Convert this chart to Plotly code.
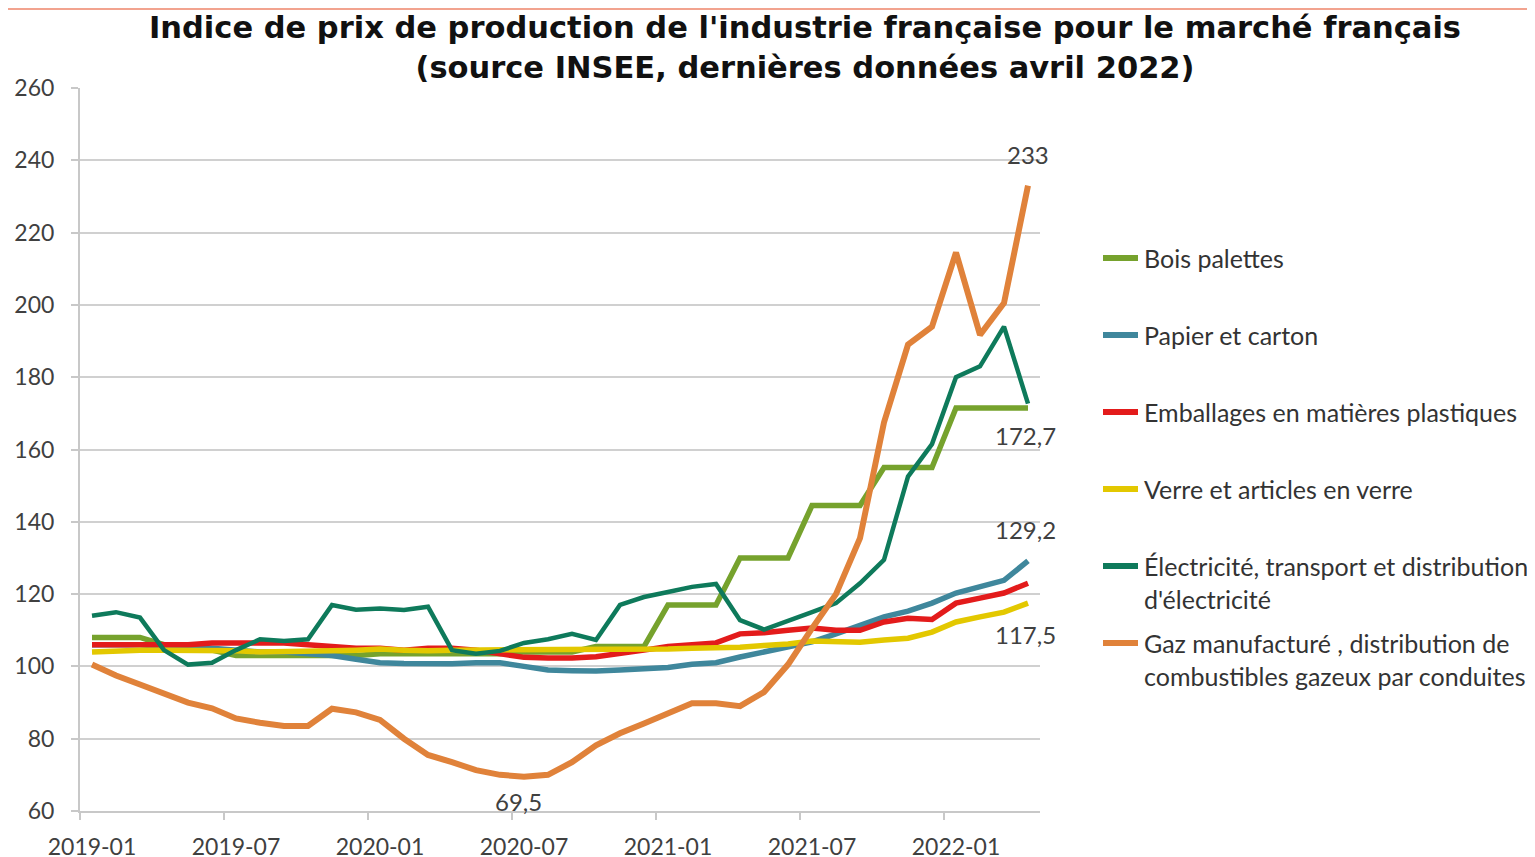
import plotly.graph_objects as go

months = [f"{y}-{m:02d}" for y in (2019, 2020, 2021, 2022) for m in range(1, 13)][:40]

bois_palettes = [108, 108, 108, 106, 105, 104.5, 103, 103, 103, 103, 103, 103,
                 103.5, 103.5, 103.5, 103.5, 103.5, 103.5, 104, 104, 104, 105.5, 105.5, 105.5,
                 117, 117, 117, 130, 130, 130, 144.5, 144.5, 144.5, 155, 155, 155,
                 171.5, 171.5, 171.5, 171.5]
papier_carton = [106, 106, 106, 105.5, 105, 105, 104.5, 104, 104, 103.5, 103, 102,
                 101, 100.8, 100.7, 100.7, 101, 101, 100, 99, 98.8, 98.7, 99, 99.5,
                 99.7, 100.6, 101, 102.6, 104, 105.3, 106.8, 109, 111.4, 113.7, 115.3, 117.5,
                 120.3, 122, 123.8, 129.2]
emballages_plastiques = [106, 106, 106, 106, 106, 106.5, 106.5, 106.5, 106.5, 106, 105.5, 105,
                         105, 104.5, 105, 105, 104.5, 103.5, 102.5, 102.3, 102.3, 102.7, 103.5, 104.5,
                         105.5, 106, 106.5, 109, 109.3, 110, 110.6, 110, 110, 112.3, 113.3, 113,
                         117.5, 118.9, 120.3, 123]
verre = [104, 104.3, 104.5, 104.5, 104.5, 104.5, 104.3, 104, 104, 104, 104.3, 104.5,
         104.8, 104.5, 104.3, 104.5, 104.5, 104.5, 104.5, 104.5, 104.5, 104.5, 104.7, 104.7,
         104.8, 105, 105, 105.3, 105.8, 106.2, 107, 107, 106.7, 107.3, 107.8, 109.5,
         112.3, 113.7, 115, 117.5]
electricite = [114, 115, 113.5, 104.5, 100.5, 101, 104.5, 107.5, 107, 107.5, 117, 115.7,
               116, 115.6, 116.5, 104.5, 103.5, 104.3, 106.5, 107.5, 109, 107.3, 117, 119.2,
               120.6, 122, 122.8, 112.8, 110.2, 112.5, 115, 117.5, 123, 129.5, 152.5, 161.5,
               180, 183, 194, 172.7]
gaz = [100.5, 97.5, 95, 92.6, 90, 88.4, 85.6, 84.4, 83.5, 83.5, 88.3, 87.3,
       85.2, 80, 75.5, 73.5, 71.3, 70, 69.5, 70, 73.5, 78.2, 81.5, 84.2,
       87, 89.8, 89.8, 89, 92.9, 100.5, 110.5, 120, 135.5, 167.5, 189, 194,
       214.5, 191.7, 200.5, 233]

series_names = ["Bois palettes", "Papier et carton", "Emballages en matières plastiques",
                "Verre et articles en verre",
                "Électricité, transport et distribution<br>d'électricité",
                "Gaz manufacturé , distribution de<br>combustibles gazeux par conduites"]
series_values = [bois_palettes, papier_carton, emballages_plastiques, verre, electricite, gaz]
series_colors = ["#76A22D", "#3F879C", "#E31B1B", "#E3C800", "#0E7A5B", "#E0823A"]
series_widths = [5.5, 5.5, 5.5, 5.5, 4.5, 6]

# data labels: (series index, month index, text, xshift, yshift)
data_labels = [(5, 39, "233", 0, 31), (4, 39, "172,7", -3, -32), (1, 39, "129,2", -3, 31),
               (3, 39, "117,5", -3, -31), (5, 18, "69,5", -6, -25)]

x = list(range(len(months)))
fig = go.Figure()
for name, vals, col, w in zip(series_names, series_values, series_colors, series_widths):
    fig.add_trace(go.Scatter(x=x, y=vals, mode="lines", name=name.replace("<br>", " "),
                             line=dict(color=col, width=w), showlegend=False))

txt_col = "#404040"
annotations = []
for si, mi, t, xs, ys in data_labels:
    annotations.append(dict(x=mi, y=series_values[si][mi], text=t, showarrow=False, yshift=ys,
                            xshift=xs, font=dict(family="Lato", size=24, color=txt_col)))

# page offset (body margin) = 8 px; screen coordinates of the plot area
OFF = 8
plot_left, plot_right, plot_top, plot_bot = 80, 1040, 88, 811
pw = plot_right - plot_left
ph = plot_bot - plot_top

# manual legend
shapes = []
leg_top_px = 258
row_px = 77
row = 0
for name, col in zip(series_names, series_colors):
    ypx = leg_top_px + row * row_px
    yp = (plot_bot - ypx) / ph
    shapes.append(dict(type="line", xref="paper", yref="paper", x0=(1103 - plot_left) / pw,
                       x1=(1138 - plot_left) / pw, y0=yp, y1=yp, line=dict(color=col, width=6)))
    annotations.append(dict(xref="paper", yref="paper", x=(1142 - plot_left) / pw,
                            y=(plot_bot - ypx + 17) / ph,
                            xanchor="left", yanchor="top", align="left", showarrow=False, text=name,
                            font=dict(family="Lato", size=25, color="#333333")))
    row += 1

# thin top border
shapes.append(dict(type="line", xref="paper", yref="paper", x0=-(plot_left) / pw,
                   x1=(1535 - plot_left) / pw,
                   y0=(plot_bot - OFF - 1) / ph, y1=(plot_bot - OFF - 1) / ph,
                   line=dict(color="#F2A38F", width=2)))

W, H = 1535, 857
fig.update_layout(
    width=W, height=H,
    margin=dict(l=plot_left - OFF, r=W - (plot_right - OFF), t=plot_top - OFF, b=H - (plot_bot - OFF),
                autoexpand=False),
    paper_bgcolor="white", plot_bgcolor="white",
    title=dict(text="Indice de prix de production de l'industrie française pour le marché français<br>"
                    "(source INSEE, dernières données avril 2022)",
               x=(805 - OFF) / W, xanchor="center", y=1 - (38 - OFF) / H, yanchor="middle",
               font=dict(family="DejaVu Sans", size=30.5, color="#111111", weight="bold")),
    xaxis=dict(range=[-0.5, 39.5], tickmode="array", tickvals=x[::6], ticktext=months[::6],
               showgrid=False, zeroline=False, showline=True, linecolor="#C8C8C8", linewidth=2,
               ticks="", ticklabelstandoff=14, automargin=False,
               minor=dict(tickmode="linear", tick0=-0.5, dtick=6, ticks="outside", ticklen=7,
                          tickcolor="#C8C8C8", tickwidth=2, showgrid=False),
               tickfont=dict(family="Lato", size=23, color=txt_col)),
    yaxis=dict(range=[60, 260], dtick=20, showgrid=True, gridcolor="#D0D0D0", gridwidth=2,
               zeroline=False, showline=True, linecolor="#C8C8C8", linewidth=2, automargin=False,
               ticks="outside", ticklen=7, tickcolor="#C8C8C8", tickwidth=2, ticklabelstandoff=12,
               tickfont=dict(family="Lato", size=23, color=txt_col)),
    annotations=annotations, shapes=shapes,
)
fig.write_html("out.html")
